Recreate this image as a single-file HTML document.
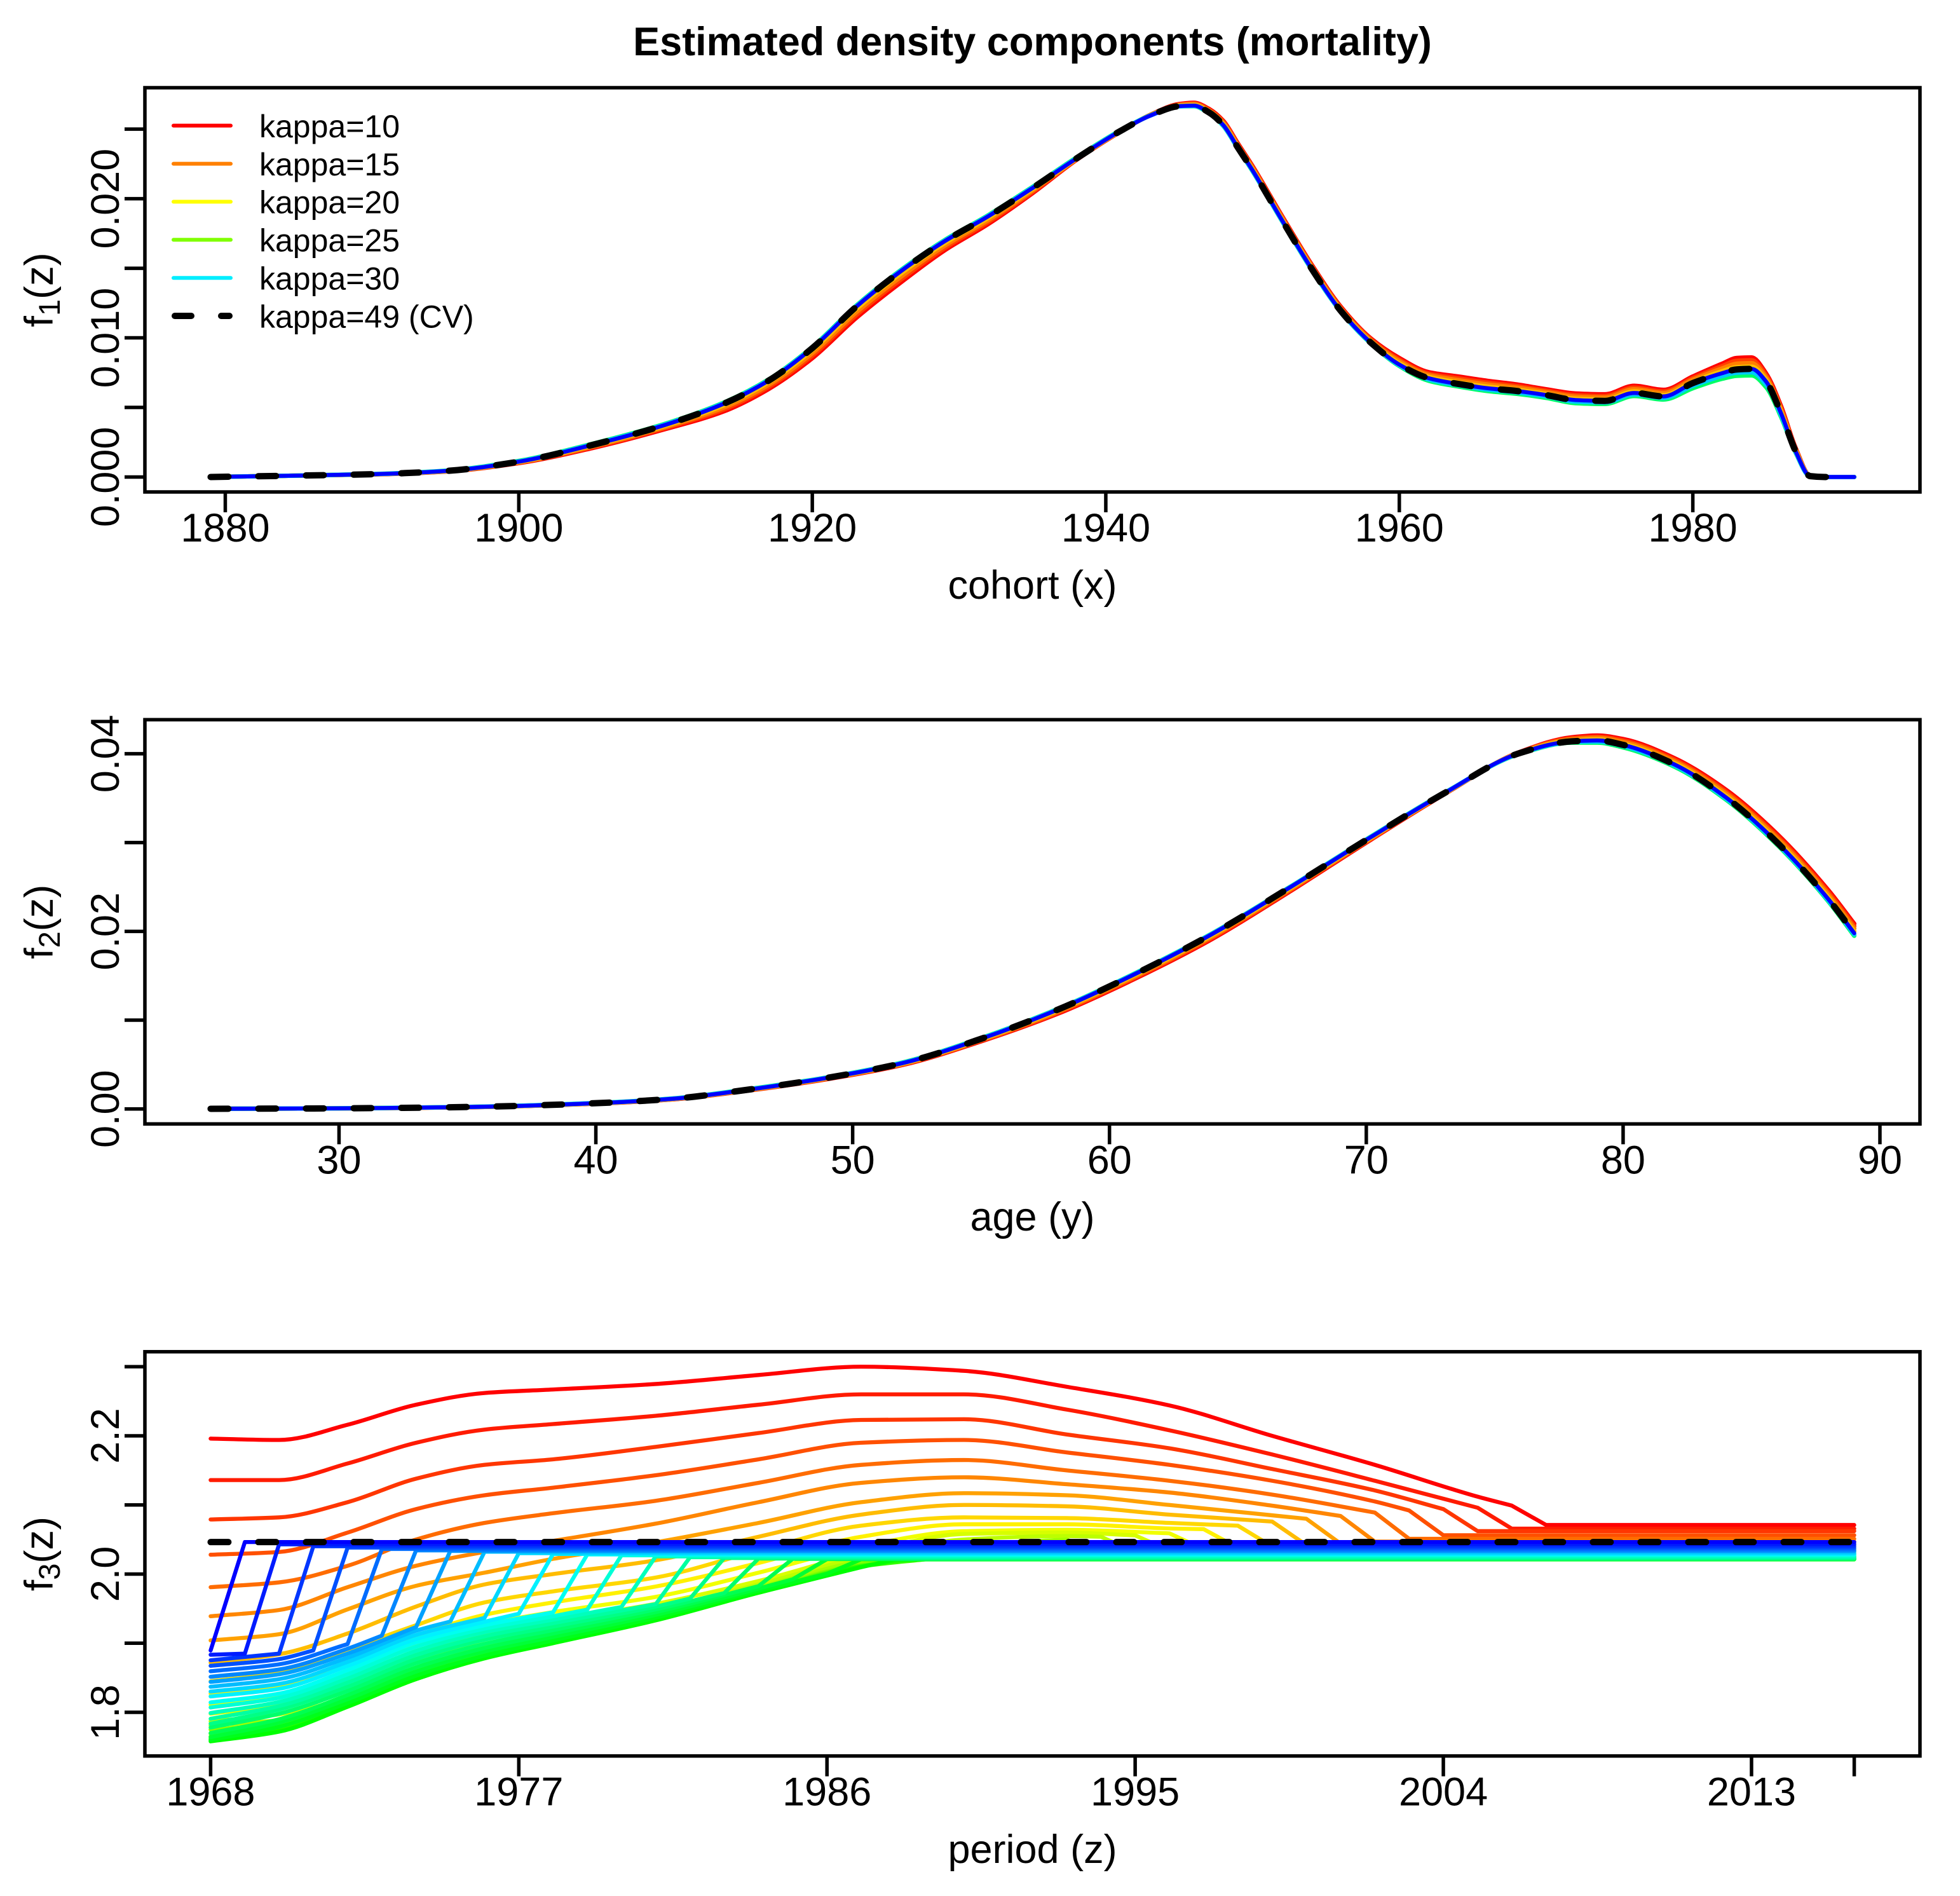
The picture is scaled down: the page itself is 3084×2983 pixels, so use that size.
<!DOCTYPE html>
<html lang="en">
<head>
<meta charset="utf-8">
<title>Estimated density components (mortality)</title>
<style>
html,body{margin:0;padding:0;background:#fff;}
svg{display:block;}
text{font-family:"Liberation Sans",Arial,sans-serif;fill:#000;}
</style>
</head>
<body>
<svg id="chart" xmlns="http://www.w3.org/2000/svg" width="3084" height="2983" viewBox="0 0 3084 2983">
<rect x="0" y="0" width="3084" height="2983" fill="#fff"/>
<text x="1624.5" y="87" text-anchor="middle" font-size="63" font-weight="bold">Estimated density components (mortality)</text>

<text x="1624.5" y="942" text-anchor="middle" font-size="63">cohort (x)</text>
<text x="1624.5" y="1936" text-anchor="middle" font-size="63">age (y)</text>
<text x="1624.5" y="2931" text-anchor="middle" font-size="63">period (z)</text>

<text transform="translate(83,456) rotate(-90)" text-anchor="middle" font-size="63">f<tspan font-size="47" dy="11">1</tspan><tspan dy="-11">(z)</tspan></text>
<text transform="translate(83,1450.3) rotate(-90)" text-anchor="middle" font-size="63">f<tspan font-size="47" dy="11">2</tspan><tspan dy="-11">(z)</tspan></text>
<text transform="translate(83,2444.7) rotate(-90)" text-anchor="middle" font-size="63">f<tspan font-size="47" dy="11">3</tspan><tspan dy="-11">(z)</tspan></text>

<g id="panels"></g>

<g>
  <line x1="273" x2="363" y1="197.6" y2="197.6" stroke="#FF0000" stroke-width="6" stroke-linecap="round"/>
  <line x1="273" x2="363" y1="257.6" y2="257.6" stroke="#FF8000" stroke-width="6" stroke-linecap="round"/>
  <line x1="273" x2="363" y1="317.4" y2="317.4" stroke="#FFFF00" stroke-width="6" stroke-linecap="round"/>
  <line x1="273" x2="363" y1="377.3" y2="377.3" stroke="#80FF00" stroke-width="6" stroke-linecap="round"/>
  <line x1="273" x2="363" y1="437.2" y2="437.2" stroke="#00EEFF" stroke-width="6" stroke-linecap="round"/>
  <line x1="275" x2="361" y1="497" y2="497" stroke="#000" stroke-width="10" stroke-linecap="round" stroke-dasharray="26 47"/>
  <text x="408" y="216" font-size="50">kappa=10</text>
  <text x="408" y="276" font-size="50">kappa=15</text>
  <text x="408" y="335.5" font-size="50">kappa=20</text>
  <text x="408" y="395.5" font-size="50">kappa=25</text>
  <text x="408" y="455.5" font-size="50">kappa=30</text>
  <text x="408" y="515.5" font-size="50">kappa=49 (CV)</text>
</g>
</svg>

<script>
// ---------- Panel 1: cohort effect ----------
const cohortYears = [1879,1885,1890,1895,1900,1905,1910,1914,1917,1920,1923,1926,1929,1932,1935,1938,1941,1943,1945,1946,1947,1948,1949,1950,1952,1954,1956,1958,1960,1962,1964,1966,1968,1970,1972,1974,1976,1978,1980,1982,1983,1984,1985,1986,1987,1988,1989,1991];
const f1Red = [0,.0001,.00018,.00039,.001,.00208,.00345,.00473,.00631,.00854,.01144,.01396,.01628,.01819,.02039,.02279,.02482,.02601,.0268,.02689,.02647,.0256,.02397,.02234,.01877,.01531,.01225,.01001,.00855,.00753,.00722,.00691,.00665,.0063,.006,.00594,.00655,.00626,.00722,.00814,.00855,.00859,.00743,.00512,.0021,.00008,0,0];
const f1RedOrange = [0,.0001,.00019,.0004,.00103,.00214,.00353,.00487,.00646,.00872,.01164,.01416,.01644,.01833,.02048,.02282,.02483,.026,.02676,.02684,.02641,.02553,.0239,.02227,.0187,.01524,.01218,.00994,.00843,.00742,.00709,.00678,.00653,.0062,.00588,.00582,.00642,.00614,.0071,.00797,.00835,.00839,.00729,.00499,.00204,.00008,0,0];
const f1Orange = [0,.0001,.00019,.00041,.00105,.00219,.0036,.00501,.00661,.0089,.01184,.01436,.01661,.01847,.02058,.02284,.02485,.02599,.02673,.02679,.02635,.02545,.02382,.02219,.01862,.01516,.0121,.00986,.00832,.00732,.00696,.00665,.00642,.0061,.00577,.00571,.0063,.00603,.00699,.0078,.00814,.00818,.00714,.00487,.00198,.00007,0,0];
const f1Yellow = [0,.0001,.0002,.00042,.00108,.00226,.00369,.00517,.00679,.00912,.01208,.0146,.0168,.01863,.02069,.02287,.02486,.02597,.02668,.02673,.02627,.02536,.02373,.0221,.01853,.01507,.01201,.00977,.00817,.00719,.0068,.00649,.00627,.00597,.00562,.00556,.00614,.00588,.00684,.0076,.00789,.00793,.00697,.00471,.00191,.00006,0,0];
const f1Green = [0,.0001,.00021,.00045,.00115,.00238,.00383,.00536,.00699,.00934,.01232,.01484,.01701,.01882,.02084,.02296,.02491,.02597,.02664,.02665,.02616,.02524,.02361,.02198,.01841,.01495,.0119,.00965,.00798,.00692,.00651,.00618,.00598,.00569,.00531,.00525,.00582,.00557,.00638,.00706,.00727,.0073,.00645,.00435,.00176,.00004,0,0];
const f1Cyan = [0,.0001,.0002,.00044,.00112,.00234,.00379,.00532,.00695,.0093,.01228,.0148,.01697,.01878,.0208,.02292,.02489,.02596,.02664,.02667,.02619,.02527,.02364,.02201,.01844,.01498,.01192,.00968,.00803,.00701,.0066,.00628,.00608,.00579,.00542,.00536,.00593,.00568,.00656,.00726,.0075,.00753,.00665,.00448,.00181,.00005,0,0];
const f1Blue = [0,.0001,.0002,.00043,.0011,.0023,.00375,.00528,.00691,.00926,.01224,.01476,.01693,.01874,.02076,.02289,.02487,.02596,.02665,.02669,.02622,.0253,.02367,.02204,.01847,.01501,.01195,.00971,.00808,.0071,.00669,.00638,.00618,.00589,.00553,.00547,.00604,.00579,.00675,.00746,.00773,.00777,.00685,.00461,.00186,.00006,0,0];
const f1Black = [0,.0001,.0002,.00043,.0011,.0023,.00375,.00528,.00691,.00926,.01224,.01476,.01693,.01874,.02076,.02289,.02487,.02596,.02665,.02669,.02622,.0253,.02367,.02204,.01847,.01501,.01195,.00971,.00808,.0071,.00669,.00638,.00618,.00589,.00553,.00547,.00604,.00579,.00675,.00746,.00773,.00777,.00685,.00461,.00186,.00006,0,0];
const cohortTicks = [1880,1900,1920,1940,1960,1980];
const f1YTicks = [0,.005,.01,.015,.02,.025];
const f1YLabels = ['0.000','','0.010','','0.020',''];

// ---------- Panel 2: age effect ----------
const ageValues = [25,30,35,40,43,46,49,52,55,58,61,64,67,70,73,76,78,79,80,82,84,86,88,89];
const f2Red = [.00002,.00007,.0002,.00061,.00109,.0021,.00336,.005,.00762,.01075,.01468,.01915,.02445,.03,.03538,.04022,.04185,.04205,.04165,.0395,.03595,.03095,.0246,.02085];
const f2RedOrange = [.00002,.00007,.0002,.00062,.0011,.00213,.0034,.00505,.00769,.01086,.01481,.01929,.02456,.03008,.03541,.04019,.04174,.04191,.04149,.03933,.03574,.03071,.02435,.02059];
const f2Orange = [.00002,.00007,.00021,.00063,.00112,.00215,.00343,.0051,.00776,.01098,.01494,.01943,.02468,.03015,.03544,.04016,.04163,.04178,.04133,.03915,.03553,.03048,.0241,.02033];
const f2Yellow = [.00002,.00007,.00022,.00064,.00114,.00218,.00347,.00516,.00784,.01111,.0151,.01959,.02481,.03024,.03548,.04012,.04149,.04161,.04113,.03894,.03527,.03019,.0238,.02001];
const f2Green = [.00002,.00007,.00023,.00067,.00118,.00225,.00355,.00527,.00798,.01128,.01528,.01977,.02495,.03035,.03553,.04002,.04125,.04125,.04072,.03855,.03485,.02975,.02335,.0195];
const f2Cyan = [.00002,.00007,.00022,.00066,.00116,.00222,.00352,.00523,.00794,.01124,.01524,.01973,.02492,.03032,.03551,.04006,.04132,.04137,.04086,.03867,.03497,.02987,.02347,.01965];
const f2Blue = [.00002,.00007,.00022,.00065,.00115,.0022,.0035,.0052,.0079,.0112,.0152,.0197,.0249,.0303,.0355,.0401,.0414,.0415,.041,.0388,.0351,.03,.0236,.0198];
const f2Black = [.00002,.00007,.00022,.00065,.00115,.0022,.0035,.0052,.0079,.0112,.0152,.0197,.0249,.0303,.0355,.0401,.0414,.0415,.041,.0388,.0351,.03,.0236,.0198];
const ageTicks = [30,40,50,60,70,80,90];
const f2YTicks = [0,.01,.02,.03,.04];
const f2YLabels = ['0.00','','0.02','','0.04'];

// ---------- Panel 3: period effect ----------
const periodKnots = [1968,1970,1972,1974,1976,1978,1981,1984,1987,1990,1993,1996,1999,2002,2005];
// last year on the smooth part of each curve; the final value of each row below belongs to that year
const f3LastYear = [2006,2005,2004,2003,2002,2001,2000,1999,1998,1997,1996,1995,1994,1993,1992,1991,1990,1989,1988,1987,1986,1985,1984,1983,1982,1981,1980,1979,1978,1977,1976,1975,1974,1973,1972,1971,1970,1969,1968];
const f3Flat = [2.071,2.0657,2.0622,2.0562,2.051,2.047,2.044,2.042,2.04,2.038,2.036,2.034,2.032,2.03,2.028,2.026,2.025,2.024,2.023,2.0212,2.0214,2.0216,2.022,2.0225,2.0232,2.0244,2.0256,2.0272,2.0284,2.0291,2.0303,2.0323,2.0335,2.0343,2.0363,2.0383,2.0403,2.043,2.0463];
const f3Curves = [
[2.196,2.194,2.216,2.245,2.262,2.267,2.275,2.288,2.300,2.294,2.271,2.244,2.200,2.158,2.112,2.099],
[2.136,2.136,2.160,2.190,2.209,2.217,2.229,2.245,2.260,2.260,2.238,2.208,2.173,2.135,2.096],
[2.079,2.082,2.104,2.138,2.158,2.166,2.184,2.204,2.223,2.224,2.202,2.182,2.152,2.121,2.094],
[2.028,2.032,2.060,2.094,2.114,2.125,2.143,2.166,2.190,2.194,2.176,2.158,2.135,2.105,2.092],
[1.981,1.988,2.012,2.050,2.074,2.088,2.106,2.132,2.158,2.165,2.150,2.135,2.115,2.089],
[1.939,1.948,1.981,2.012,2.032,2.048,2.073,2.104,2.132,2.140,2.130,2.118,2.099,2.084],
[1.904,1.913,1.949,1.983,2.002,2.022,2.046,2.074,2.104,2.117,2.114,2.100,2.085,2.080],
[1.872,1.884,1.914,1.953,1.985,2.000,2.020,2.054,2.086,2.100,2.098,2.086,2.076],
[1.845,1.857,1.891,1.926,1.959,1.975,1.995,2.034,2.070,2.082,2.081,2.074,2.070],
[1.827,1.838,1.871,1.911,1.941,1.959,1.982,2.016,2.054,2.072,2.072,2.066,2.065],
[1.811,1.823,1.859,1.897,1.927,1.945,1.967,2.002,2.040,2.062,2.064,2.059],
[1.798,1.811,1.845,1.883,1.915,1.933,1.957,1.990,2.030,2.058,2.060,2.056],
[1.787,1.797,1.833,1.873,1.905,1.925,1.949,1.985,2.024,2.050,2.055,2.054],
[1.781,1.789,1.823,1.863,1.895,1.915,1.943,1.981,2.019,2.042,2.050],
[1.775,1.783,1.817,1.857,1.889,1.909,1.939,1.977,2.015,2.034,2.042],
[1.769,1.779,1.813,1.853,1.885,1.906,1.937,1.975,2.013,2.028,2.034],
[1.765,1.776,1.811,1.851,1.882,1.904,1.935,1.974,2.012,2.026],
[1.762,1.774,1.810,1.850,1.880,1.902,1.935,1.973,2.011,2.022],
[1.760,1.773,1.809,1.848,1.879,1.901,1.934,1.973,2.011,2.019],
[1.758,1.772,1.808,1.848,1.878,1.900,1.933,1.973,2.010],
[1.760,1.779,1.8135,1.853,1.882,1.904,1.937,1.976,2.0004],
[1.764,1.785,1.819,1.859,1.888,1.909,1.941,1.979,1.9924],
[1.770,1.790,1.825,1.865,1.893,1.914,1.945,1.9825],
[1.778,1.798,1.831,1.871,1.899,1.919,1.949,1.9725],
[1.7836,1.804,1.837,1.877,1.905,1.924,1.953,1.9645],
[1.7907,1.809,1.843,1.883,1.910,1.929,1.9565],
[1.799,1.815,1.849,1.889,1.916,1.934,1.9525],
[1.807,1.821,1.855,1.895,1.921,1.939,1.9486],
[1.8143,1.827,1.861,1.901,1.926,1.9446],
[1.823,1.834,1.867,1.906,1.931,1.9426],
[1.830,1.841,1.873,1.912,1.9366],
[1.837,1.848,1.879,1.918,1.9314],
[1.844,1.855,1.885,1.9234],
[1.8514,1.862,1.892,1.9109],
[1.8594,1.8695,1.8987],
[1.8673,1.877,1.8895],
[1.8753,1.8849],
[1.8833,1.8849],
[1.8895]
];
const f3CvYears = [1968,2016];
const f3CvValues = [2.0463,2.0463];
const periodTicks = [1968,1977,1986,1995,2004,2013,2016];
const periodTickLabels = ['1968','1977','1986','1995','2004','2013',''];
const f3YTicks = [1.8,1.9,2.0,2.1,2.2,2.3];
const f3YLabels = ['1.8','','2.0','','2.2',''];

// ---------- Drawing ----------
const NS = 'http://www.w3.org/2000/svg';
const root = document.getElementById('panels');
const plotL = 228, plotW = 2793, plotH = 636, dataL = 331.4, dataW = 2586.2, padY = 23.56;

function add(parent, tag, attrs, name) {
  const el = document.createElementNS(NS, tag);
  
  
  for (const k in attrs) { el.setAttribute(k, attrs[k]); }
  parent.appendChild(el);
  return el;
}
function xScale(d0, d1) { return v => dataL + (v - d0) / (d1 - d0) * dataW; }
function yScale(top, d0, d1) {
  const bottom = top + plotH - padY, k = (plotH - 2 * padY) / (d1 - d0);
  return v => bottom - (v - d0) * k;
}
// smooth monotone path (PCHIP tangents) through the data points, in pixel space
function smoothPath(xs, ys, sx, sy) {
  const px = xs.map(sx), py = ys.map(sy), n = px.length;
  let d = 'M' + px[0].toFixed(2) + ' ' + py[0].toFixed(2);
  if (n < 3) {
    for (let i = 1; i < n; i++) { d += 'L' + px[i].toFixed(2) + ' ' + py[i].toFixed(2); }
    return d;
  }
  const h = [], s = [];
  for (let i = 0; i < n - 1; i++) { h.push(px[i + 1] - px[i]); s.push((py[i + 1] - py[i]) / h[i]); }
  const m = new Array(n).fill(0);
  m[0] = s[0];
  m[n - 1] = s[n - 2];
  for (let i = 1; i < n - 1; i++) {
    if (s[i - 1] * s[i] > 0) {
      const w1 = 2 * h[i] + h[i - 1], w2 = h[i] + 2 * h[i - 1];
      m[i] = (w1 + w2) / (w1 / s[i - 1] + w2 / s[i]);
    }
  }
  for (let i = 0; i < n - 1; i++) {
    const c = h[i] / 3;
    d += 'C' + (px[i] + c).toFixed(2) + ' ' + (py[i] + m[i] * c).toFixed(2) + ' ' +
         (px[i + 1] - c).toFixed(2) + ' ' + (py[i + 1] - m[i + 1] * c).toFixed(2) + ' ' +
         px[i + 1].toFixed(2) + ' ' + py[i + 1].toFixed(2);
  }
  return d;
}
function axes(g, top, sx, sy, xT, xL, yT, yL, id) {
  const bottom = top + plotH;
  xT.forEach((t, i) => {
    const x = sx(t);
    add(g, 'line', {x1: x, x2: x, y1: bottom, y2: bottom + 32, stroke: '#000', 'stroke-width': 5.5}, id + '-x-tick-' + t);
    if (xL[i]) {
      const lab = add(g, 'text', {x: x, y: bottom + 78, 'text-anchor': 'middle', 'font-size': 63}, id + '-x-tick-label-' + t);
      lab.textContent = xL[i];
    }
  });
  yT.forEach((t, i) => {
    const y = sy(t);
    add(g, 'line', {x1: plotL - 32, x2: plotL, y1: y, y2: y, stroke: '#000', 'stroke-width': 5.5}, id + '-y-tick-' + t);
    if (yL[i]) {
      const lab = add(g, 'text', {transform: 'translate(187,' + y + ') rotate(-90)', 'text-anchor': 'middle', 'font-size': 63}, id + '-y-tick-label-' + t);
      lab.textContent = yL[i];
    }
  });
}
function line(g, d, color, width, name, dash) {
  const attrs = {d: d, fill: 'none', stroke: color, 'stroke-width': width, 'stroke-linejoin': 'round', 'stroke-linecap': 'round'};
  if (dash) { attrs['stroke-dasharray'] = dash; }
  add(g, 'path', attrs, name);
}

// Panel 1
(function () {
  const top = 138;
  const g = add(root, 'g', {}, 'cohort-panel');
  const sx = xScale(1879, 1991), sy = yScale(top, 0, 0.0269);
  const bands = [[f1Red, '#FF0000', 'red'], [f1RedOrange, '#FF4000', 'red-orange'], [f1Orange, '#FF8000', 'orange'], [f1Yellow, '#FFC000', 'yellow'], [f1Green, '#00FF66', 'green'], [f1Cyan, '#00C8FF', 'cyan']];
  bands.forEach(b => line(g, smoothPath(cohortYears, b[0], sx, sy), b[1], 7, 'f1-line-' + b[2]));
  line(g, smoothPath(cohortYears, f1Blue, sx, sy), '#0000FF', 6.3, 'f1-line-blue');
  line(g, smoothPath(cohortYears, f1Black, sx, sy), '#000', 10, 'f1-line-kappa-49-cv', '28 47');
  axes(g, top, sx, sy, cohortTicks, cohortTicks.map(String), f1YTicks, f1YLabels, 'cohort');
  add(g, 'rect', {x: plotL, y: top, width: plotW, height: plotH, fill: 'none', stroke: '#000', 'stroke-width': 5.5}, 'cohort-plot-frame');
})();

// Panel 2
(function () {
  const top = 1132.3;
  const g = add(root, 'g', {}, 'age-panel');
  const sx = xScale(25, 89), sy = yScale(top, 0, 0.04215);
  const bands = [[f2Red, '#FF0000', 'red'], [f2RedOrange, '#FF4000', 'red-orange'], [f2Orange, '#FF8000', 'orange'], [f2Yellow, '#FFC000', 'yellow'], [f2Green, '#00FF66', 'green'], [f2Cyan, '#00C8FF', 'cyan']];
  bands.forEach(b => line(g, smoothPath(ageValues, b[0], sx, sy), b[1], 7, 'f2-line-' + b[2]));
  line(g, smoothPath(ageValues, f2Blue, sx, sy), '#0000FF', 6.3, 'f2-line-blue');
  line(g, smoothPath(ageValues, f2Black, sx, sy), '#000', 10, 'f2-line-kappa-49-cv', '28 47');
  axes(g, top, sx, sy, ageTicks, ageTicks.map(String), f2YTicks, f2YLabels, 'age');
  add(g, 'rect', {x: plotL, y: top, width: plotW, height: plotH, fill: 'none', stroke: '#000', 'stroke-width': 5.5}, 'age-plot-frame');
})();

// Panel 3
(function () {
  const top = 2126.7;
  const g = add(root, 'g', {}, 'period-panel');
  const sx = xScale(1968, 2016), sy = yScale(top, 1.7585, 2.3);
  const n = f3Curves.length;
  f3Curves.forEach((vals, i) => {
    const T = f3LastYear[i];
    const xs = [], ys = [];
    vals.forEach((v, j) => {
      xs.push(j === vals.length - 1 ? T : periodKnots[j]);
      ys.push(v);
    });
    const d = smoothPath(xs, ys, sx, sy) +
      'L' + sx(T + 1).toFixed(2) + ' ' + sy(f3Flat[i]).toFixed(2) +
      'L' + sx(2016).toFixed(2) + ' ' + sy(f3Flat[i]).toFixed(2);
    const hue = 240 * i / (n - 1);
    line(g, d, 'hsl(' + hue.toFixed(1) + ',100%,50%)', 6.3, 'f3-line-' + i);
  });
  line(g, smoothPath(f3CvYears, f3CvValues, sx, sy), '#000', 10, 'f3-line-kappa-49-cv', '28 47');
  axes(g, top, sx, sy, periodTicks, periodTickLabels, f3YTicks, f3YLabels, 'period');
  add(g, 'rect', {x: plotL, y: top, width: plotW, height: plotH, fill: 'none', stroke: '#000', 'stroke-width': 5.5}, 'period-plot-frame');
})();
</script>
</body>
</html>
